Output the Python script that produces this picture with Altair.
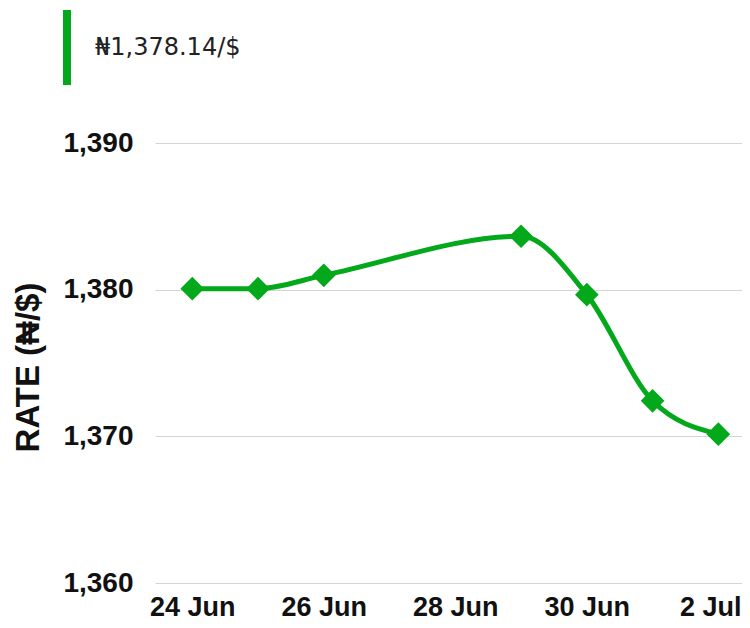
import altair as alt
import pandas as pd

dates = ["2025-06-24", "2025-06-25", "2025-06-26", "2025-06-29", "2025-06-30", "2025-07-01", "2025-07-02"]
rates = [1380.07, 1380.07, 1380.98, 1383.64, 1379.66, 1372.42, 1370.15]
y_ticks = [1360, 1370, 1380, 1390]
header_text = ["₦1,378.14/$"]

GREEN = "#03a81b"

df = pd.DataFrame({"date": dates, "rate": rates})

x_enc = alt.X(
    "date:T",
    scale=alt.Scale(
        type="utc",
        domain=[
            alt.DateTime(year=2025, month=6, date=23, hours=10, minutes=24, utc=True),
            alt.DateTime(year=2025, month=7, date=2, hours=8, minutes=38, utc=True),
        ],
    ),
    axis=alt.Axis(
        title=None,
        labelExpr="utcFormat(datum.value, '%-d %b')",
        values=[
            alt.DateTime(year=2025, month=6, date=24, utc=True),
            alt.DateTime(year=2025, month=6, date=26, utc=True),
            alt.DateTime(year=2025, month=6, date=28, utc=True),
            alt.DateTime(year=2025, month=6, date=30, utc=True),
            alt.DateTime(year=2025, month=7, date=2, utc=True),
        ],
        grid=False,
        domain=False,
        ticks=False,
        labelFont="Liberation Sans",
        labelFontWeight="bold",
        labelFontSize=27,
        labelColor="#111111",
        labelPadding=11,
        labelOffset={"condition": {"test": "datum.index >= 0.99", "value": -8}, "value": 0},
        labelOverlap=False,
        labelFlush=False,
    ),
)

y_enc = alt.Y(
    "rate:Q",
    scale=alt.Scale(domain=[1360, 1390], zero=False, nice=False),
    axis=alt.Axis(
        title="RATE (₦/$)",
        values=y_ticks,
        format=",.0f",
        grid=True,
        gridColor="#d4d4d4",
        gridWidth=1,
        domain=False,
        ticks=False,
        labelFont="Liberation Sans",
        labelFontWeight="bold",
        labelFontSize=28,
        labelColor="#111111",
        labelPadding=22,
        labelBaseline="middle",
        titleFont="Liberation Sans",
        titleFontWeight="bold",
        titleFontSize=33,
        titleColor="#111111",
        titleAngle=270,
        titleAlign="center",
        titleBaseline="middle",
        titleX=-127,
        titleY=224,
    ),
)

line = alt.Chart(df).mark_line(
    color=GREEN, strokeWidth=5, interpolate="monotone"
).encode(x=x_enc, y=y_enc)

points = alt.Chart(df).mark_point(
    shape="diamond", filled=True, color=GREEN, size=560, opacity=1
).encode(x=x_enc, y=y_enc)

hdr = pd.DataFrame({"label": header_text})

bar = alt.Chart(hdr).mark_rule(color=GREEN, strokeWidth=8, strokeCap="butt").encode(
    x=alt.value(-88), y=alt.value(-133), y2=alt.value(-58)
)

header = alt.Chart(hdr).mark_text(
    align="left", baseline="middle", font="DejaVu Sans", fontSize=24,
    color="#222222"
).encode(
    x=alt.value(-60), y=alt.value(-95), text="label:N"
)

chart = alt.layer(line, points, bar, header).properties(
    width=587,
    height=440,
    autosize=alt.AutoSizeParams(type="none"),
    padding={"left": 147, "top": 135, "right": 0, "bottom": 37},
).configure_view(stroke=None)

chart.save("out.html", embed_options={"renderer": "svg", "actions": False})
